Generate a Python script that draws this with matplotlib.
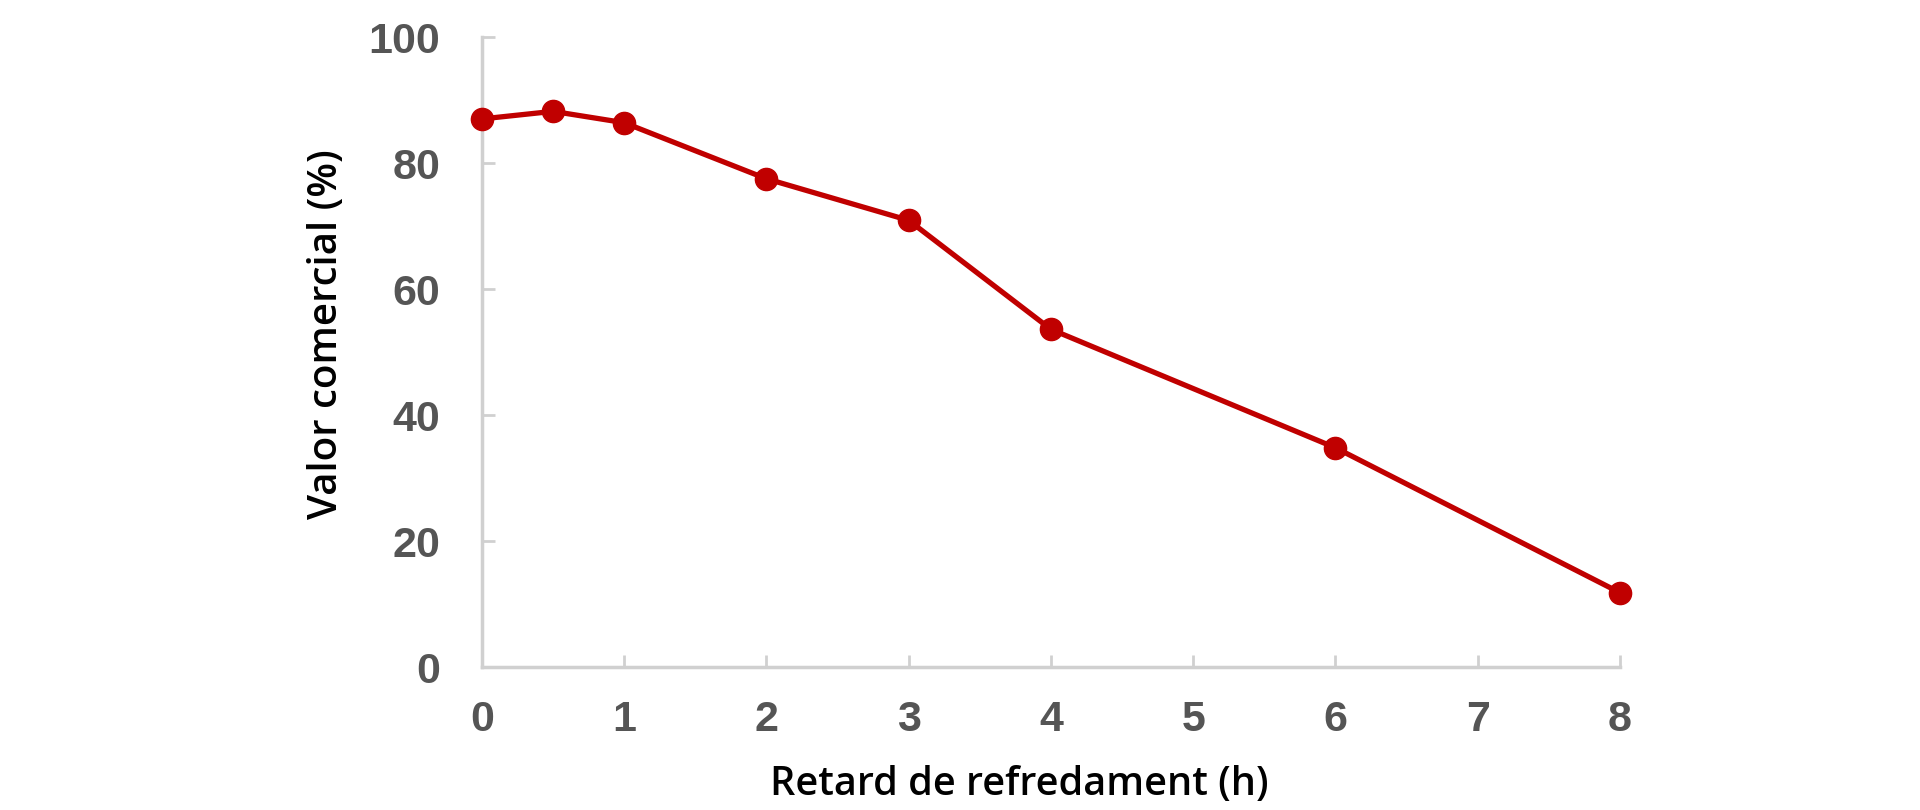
import matplotlib
matplotlib.use("Agg")
import matplotlib.pyplot as plt

hours = [0, 0.5, 1, 2, 3, 4, 6, 8]
valor = [87.0, 88.2, 86.4, 77.5, 70.9, 53.6, 34.8, 11.8]
xticks = [0, 1, 2, 3, 4, 5, 6, 7, 8]
yticks = [0, 20, 40, 60, 80, 100]
xlabel = "Retard de refredament (h)"
ylabel = "Valor comercial (%)"

fig = plt.figure(figsize=(19.2, 8.1), dpi=100)
ax = fig.add_axes([0.2510, 0.1765, 0.84375 - 0.2510, 0.9543 - 0.1765])

ax.plot(hours, valor, color="#c00000", linewidth=3.8, marker="o", markersize=16,
        clip_on=False, zorder=3)

ax.set_xlim(0, 8)
ax.set_ylim(0, 100)
ax.set_xticks(xticks)
ax.set_yticks(yticks)

for s in ["top", "right"]:
    ax.spines[s].set_visible(False)
for s in ["left", "bottom"]:
    ax.spines[s].set_color("#d0d0d0")
    ax.spines[s].set_linewidth(2.5)

ax.tick_params(axis="both", direction="in", length=9, width=2, color="#d0d0d0",
               labelsize=31, labelcolor="#555555")
ax.tick_params(axis="y", pad=30)
ax.tick_params(axis="x", pad=24)
for lab in ax.get_xticklabels() + ax.get_yticklabels():
    lab.set_fontfamily("Liberation Sans")
    lab.set_fontweight("bold")

ax.set_xlabel(xlabel, fontsize=28.5, family="Open Sans", fontweight="semibold",
              color="black")
ax.set_ylabel(ylabel, fontsize=29, family="Open Sans", fontweight="semibold",
              color="black")
ax.xaxis.label.set_verticalalignment("center")
ax.yaxis.label.set_verticalalignment("center")
ax.xaxis.set_label_coords(0.472, -0.187)
ax.yaxis.set_label_coords(-0.136, 0.528)

fig.savefig("out.png", dpi=100, facecolor="white")
